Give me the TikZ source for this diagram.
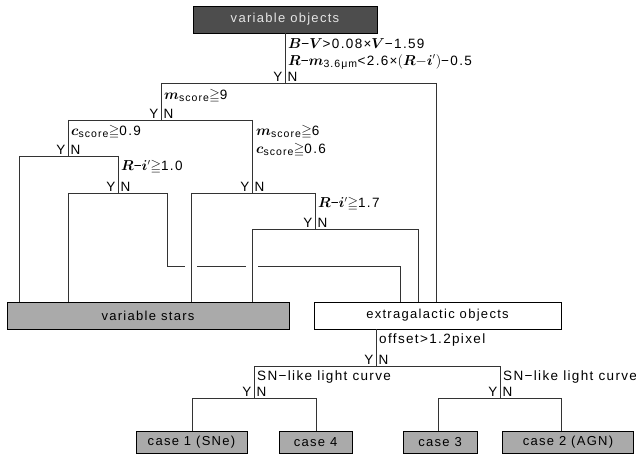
\documentclass[tikz,border=0pt]{standalone}
\usepackage{amsmath,amssymb,bm}
\usepackage{fontspec}
\setmainfont{Liberation Sans}[LetterSpace=10]
\usetikzlibrary{calc}
\definecolor{darkbox}{HTML}{4D4D4D}
\definecolor{greybox}{HTML}{AAAAAA}
\definecolor{linecol}{HTML}{333333}
\newcommand\mv[1]{$\bm{#1}$}
\newcommand\gq{${\geqq}$}
\newcommand\subt[1]{_{\text{\fontsize{10.5}{11}\selectfont #1}}}
\newcommand\yn[2]{\node[ylab] (#2y) at (#1) {Y}; \node[nlab] (#2n) at (#1) {N};}
\tikzset{
  box/.style={draw=black, line width=0.9pt, inner sep=0pt, font=\fontsize{13}{14}\selectfont},
  tl/.style={draw=linecol, line width=0.9pt},
  cond/.style={anchor=west, inner sep=0pt, font=\fontsize{13.5}{14}\selectfont},
  ylab/.style={anchor=south east, inner xsep=2.5pt, inner ysep=1pt, font=\fontsize{13.5}{14}\selectfont},
  nlab/.style={anchor=south west, inner xsep=2.5pt, inner ysep=1pt, font=\fontsize{13.5}{14}\selectfont},
}
\begin{document}
\begin{tikzpicture}[x=1pt,y=-1pt]
\useasboundingbox (0,0) rectangle (636,454);
% boxes
\node[box, fill=darkbox, text=white!90!black, minimum width=184pt, minimum height=27pt] (top) at (285,19.5) {variable objects};
\node[box, fill=greybox, minimum width=282pt, minimum height=27pt] (vstars) at (148,315.5) {variable stars};
\node[box, fill=white, minimum width=247pt, minimum height=27pt] (extra) at (437.5,315.5) {extragalactic objects};
\node[box, fill=greybox, minimum width=111pt, minimum height=22pt] (case1) at (191.5,442) {case 1 (SNe)};
\node[box, fill=greybox, minimum width=73pt, minimum height=22pt] (case4) at (315.5,442) {case 4};
\node[box, fill=greybox, minimum width=74pt, minimum height=22pt] (case3) at (440,442) {case 3};
\node[box, fill=greybox, minimum width=131pt, minimum height=22pt] (case2) at (568,442) {case 2 (AGN)};
% junction coordinates
\coordinate (a0) at (285,83); \coordinate (aL) at (161,83); \coordinate (aR) at (436,83);
\coordinate (b0) at (161,120); \coordinate (bL) at (68,120); \coordinate (bR) at (252,120);
\coordinate (c0) at (68,156); \coordinate (cL) at (19,156); \coordinate (cR) at (118,156);
\coordinate (d0) at (118,193); \coordinate (dL) at (68,193); \coordinate (dR) at (167,193);
\coordinate (e1) at (167,266); \coordinate (e2) at (400,266);
\coordinate (f0) at (252,193); \coordinate (fL) at (191,193); \coordinate (fR) at (315,193);
\coordinate (g0) at (315,229); \coordinate (gL) at (252,229); \coordinate (gR) at (418,229);
\coordinate (h0) at (376,366); \coordinate (hL) at (254,366); \coordinate (hR) at (500,366);
\coordinate (i0) at (254,398); \coordinate (iL) at (192,398); \coordinate (iR) at (316,398);
\coordinate (k0) at (500,398); \coordinate (kL) at (438,398); \coordinate (kR) at (561,398);
% upper tree
\draw[tl] (top.south) -- (a0);
\draw[tl] (aL) -- (aR);
\draw[tl] (aR) -- (extra.north -| aR);
\draw[tl] (aL) -- (b0);
\draw[tl] (bL) -- (bR);
\draw[tl] (bL) -- (c0);
\draw[tl] (cL) -- (cR);
\draw[tl] (cL) -- (vstars.north -| cL);
\draw[tl] (cR) -- (d0);
\draw[tl] (dL) -- (dR);
\draw[tl] (dL) -- (vstars.north -| dL);
\draw[tl] (dR) -- (e1) -- ($(e1 -| fL)+(-6,0)$);
\draw[tl] ($(e1 -| fL)+(6,0)$) -- ($(e1 -| gL)+(-6,0)$);
\draw[tl] ($(e1 -| gL)+(6,0)$) -- (e2) -- (extra.north -| e2);
\draw[tl] (bR) -- (f0);
\draw[tl] (fL) -- (fR);
\draw[tl] (fL) -- (vstars.north -| fL);
\draw[tl] (fR) -- (g0);
\draw[tl] (gL) -- (gR);
\draw[tl] (gL) -- (vstars.north -| gL);
\draw[tl] (gR) -- (extra.north -| gR);
% lower tree
\draw[tl] (extra.south -| h0) -- (h0);
\draw[tl] (hL) -- (hR);
\draw[tl] (hL) -- (i0);
\draw[tl] (iL) -- (iR);
\draw[tl] (iL) -- (case1.north -| iL);
\draw[tl] (iR) -- (case4.north -| iR);
\draw[tl] (hR) -- (k0);
\draw[tl] (kL) -- (kR);
\draw[tl] (kL) -- (case3.north -| kL);
\draw[tl] (kR) -- (case2.north -| kR);
% Y/N labels
\yn{a0}{a} \yn{b0}{b} \yn{c0}{c} \yn{d0}{d} \yn{f0}{f} \yn{g0}{g}
\yn{h0}{h} \yn{i0}{i} \yn{k0}{k}
% conditions
\node[cond] (t1) at (288,44) {\mv{B}−\mv{V}>0.08×\mv{V}−1.59};
\node[cond] (t2) at (288,62) {\mv{R}−$\bm{m}\subt{3.6μm}$<2.6×$(\bm{R}{-}\bm{i}')$−0.5};
\node[cond] (t3) at (164,96) {$\bm{m}\subt{score}$\gq 9};
\node[cond] (t4) at (71,132) {$\bm{c}\subt{score}$\gq 0.9};
\node[cond] (t5) at (256,132) {$\bm{m}\subt{score}$\gq 6};
\node[cond] (t6) at (256,150) {$\bm{c}\subt{score}$\gq 0.6};
\node[cond] (t7) at (121,167) {\mv{R}−$\bm{i}'$\gq 1.0};
\node[cond] (t8) at (318,204) {\mv{R}−$\bm{i}'$\gq 1.7};
\node[cond] (t9) at (379,340) {offset>1.2pixel};
\node[cond] (t10) at (257,377) {SN−like light curve};
\node[cond] (t11) at (503,377) {SN−like light curve};
\end{tikzpicture}
\end{document}
